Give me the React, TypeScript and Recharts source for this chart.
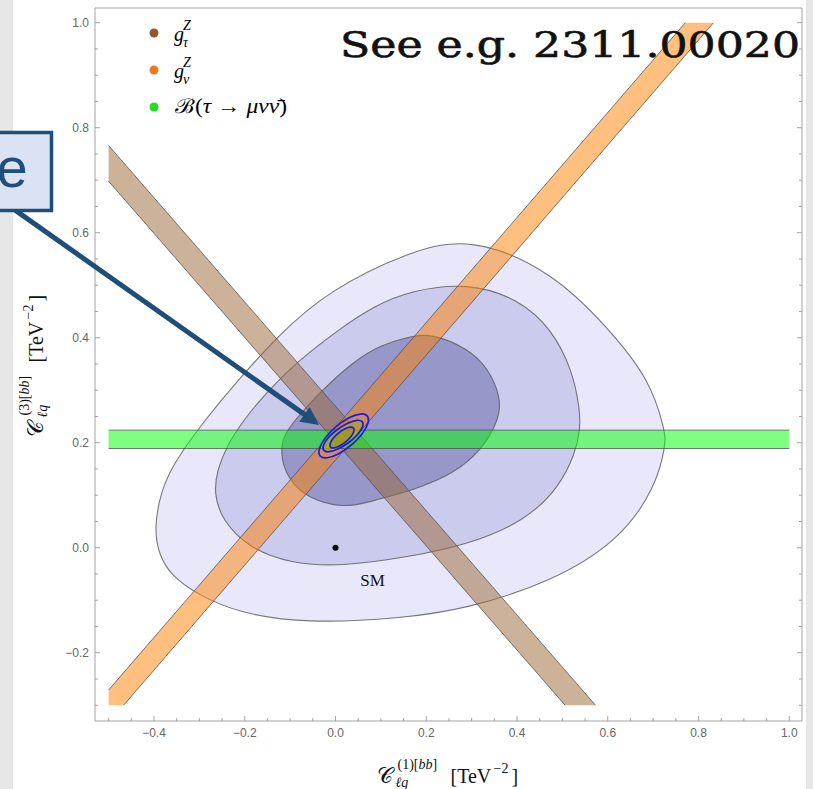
import React from 'react';
import { ComposedChart, XAxis, YAxis, Scatter, ReferenceLine, Legend } from 'recharts';

type Pt = [number, number];

const W = 813;
const H = 789;

const xDomain = [-0.53, 1.028];
const yDomain = [-0.33, 1.028];

const xTicks = [-0.5, -0.45, -0.4, -0.35, -0.3, -0.25, -0.2, -0.15, -0.1, -0.05, 0, 0.05, 0.1, 0.15, 0.2, 0.25, 0.3, 0.35, 0.4, 0.45, 0.5, 0.55, 0.6, 0.65, 0.7, 0.75, 0.8, 0.85, 0.9, 0.95, 1.0];
const yTicks = [-0.3, -0.25, -0.2, -0.15, -0.1, -0.05, 0, 0.05, 0.1, 0.15, 0.2, 0.25, 0.3, 0.35, 0.4, 0.45, 0.5, 0.55, 0.6, 0.65, 0.7, 0.75, 0.8, 0.85, 0.9, 0.95, 1.0];

// global fit contours, traced clockwise from the leftmost point
const outerContour: Pt[] = [
  [-0.399, 0.034], [-0.389, 0.092], [-0.366, 0.148], [-0.304, 0.226], [-0.218, 0.316], [-0.129, 0.402],
  [-0.018, 0.489], [0.166, 0.566], [0.298, 0.592], [0.477, 0.527], [0.603, 0.417], [0.692, 0.321],
  [0.726, 0.224], [0.728, 0.196], [0.705, 0.114], [0.625, 0.013], [0.476, -0.065], [0.291, -0.116],
  [0.143, -0.135], [-0.064, -0.144], [-0.212, -0.125], [-0.307, -0.088], [-0.362, -0.053], [-0.389, -0.014],
];
const middleContour: Pt[] = [
  [-0.268, 0.104], [-0.261, 0.148], [-0.238, 0.197], [-0.201, 0.245], [-0.151, 0.297], [-0.084, 0.355],
  [0.011, 0.418], [0.084, 0.460], [0.166, 0.490], [0.291, 0.505], [0.404, 0.474], [0.477, 0.416],
  [0.522, 0.338], [0.539, 0.262], [0.539, 0.224], [0.528, 0.179], [0.492, 0.114], [0.416, 0.050],
  [0.291, 0.006], [0.166, -0.017], [0.011, -0.036], [-0.099, -0.030], [-0.190, -0.001], [-0.250, 0.052],
];
const innerContour: Pt[] = [
  [-0.120, 0.167], [-0.118, 0.206], [-0.101, 0.232], [-0.034, 0.297], [0.040, 0.355], [0.099, 0.386],
  [0.166, 0.403], [0.210, 0.408], [0.292, 0.380], [0.338, 0.340], [0.363, 0.288], [0.363, 0.249],
  [0.322, 0.184], [0.255, 0.139], [0.188, 0.116], [0.143, 0.103], [0.077, 0.088], [0.018, 0.075],
  [-0.063, 0.095], [-0.101, 0.128],
];

// combined fit near the crossing of the three bands
const fitOuter: Pt[] = [
  [0.0721, 0.253], [0.074, 0.2386], [0.0608, 0.2175], [0.0361, 0.1951], [0.0066, 0.1775], [-0.0198, 0.1694],
  [-0.0361, 0.173], [-0.038, 0.1874], [-0.0248, 0.2085], [-0.0001, 0.2309], [0.0294, 0.2485], [0.0558, 0.2566],
];
const fitMiddle: Pt[] = [
  [0.0608, 0.2414], [0.0614, 0.2311], [0.05, 0.2158], [0.0296, 0.1998], [0.0058, 0.1872], [-0.0152, 0.1815],
  [-0.0276, 0.1842], [-0.0282, 0.1945], [-0.0168, 0.2098], [0.0036, 0.2258], [0.0274, 0.2384], [0.0484, 0.2441],
];
const fitInner: Pt[] = [
  [0.0408, 0.2289], [0.0415, 0.2221], [0.035, 0.212], [0.0229, 0.2013], [0.0084, 0.193], [-0.0043, 0.1891],
  [-0.0122, 0.1909], [-0.0129, 0.1977], [-0.0064, 0.2078], [0.0057, 0.2185], [0.0202, 0.2268], [0.0329, 0.2307],
];

// allowed bands from the individual observables, cut to the plot range
const gTauBand: Pt[] = [[-0.5, 0.698], [-0.5, 0.766], [0.573, -0.3], [0.506, -0.3]];
const gTauEdges: Pt[][] = [[[-0.5, 0.766], [0.573, -0.3]], [[-0.5, 0.698], [0.506, -0.3]]];
const gNuBand: Pt[] = [[-0.5, -0.3], [-0.5, -0.271], [0.771, 1.0], [0.833, 1.0], [-0.467, -0.3]];
const gNuEdges: Pt[][] = [[[-0.5, -0.271], [0.771, 1.0]], [[-0.467, -0.3], [0.833, 1.0]]];
const brBand: Pt[] = [[-0.5, 0.189], [-0.5, 0.224], [1.0, 0.224], [1.0, 0.189]];
const brEdges: Pt[][] = [[[-0.5, 0.224], [1.0, 0.224]], [[-0.5, 0.189], [1.0, 0.189]]];

const smPoint: Pt[] = [[0, 0]];
const arrowFrom = { x: -0.706, y: 0.643 };
const arrowTo = { x: -0.036, y: 0.234 };

const legendItems = [
  { color: '#8f5b2e', main: 'g', sup: 'Z', sub: 'τ' },
  { color: '#eb7a1c', main: 'g', sup: 'Z', sub: 'ν' },
  { color: '#1fe01f', main: 'B' },
];

const frame = '#a3a3a3';
const tickText = '#666';
const sans = "'Liberation Sans', Arial, sans-serif";
const serif = "'Liberation Serif', 'DejaVu Serif', serif";
const edgeStroke = '#4d4d4d';
const ringBlue = '#1b1be8';
const arrowBlue = '#1f4e79';

const toXY = (p: Pt[]) => p.map(([x, y]) => ({ x, y }));
const isMajor = (v: number) => Math.abs(v * 5 - Math.round(v * 5)) < 1e-6;
const fmt = (v: number) => (Math.abs(v) < 1e-9 ? '0.0' : v.toFixed(1).replace('-', '\u2212'));
const noMarker = () => <g />;

const LeftTick = ({ x, y, payload }: any) => {
  const major = isMajor(payload.value);
  return (
    <g>
      <line x1={x} y1={y} x2={x + (major ? 5 : 3)} y2={y} stroke={frame} />
      {major && (
        <text x={x - 6} y={y + 4} textAnchor="end" fontSize={12} fontFamily={sans} fill={tickText}>
          {fmt(payload.value)}
        </text>
      )}
    </g>
  );
};

const RightTick = ({ x, y, payload }: any) => (
  <line x1={x} y1={y} x2={x - (isMajor(payload.value) ? 5 : 3)} y2={y} stroke={frame} />
);

const BottomTick = ({ x, y, payload }: any) => {
  const major = isMajor(payload.value);
  return (
    <g>
      <line x1={x} y1={y} x2={x} y2={y - (major ? 5 : 3)} stroke={frame} />
      {major && (
        <text x={x} y={y + 16} textAnchor="middle" fontSize={12} fontFamily={sans} fill={tickText}>
          {fmt(payload.value)}
        </text>
      )}
    </g>
  );
};

const TopTick = ({ x, y, payload }: any) => (
  <line x1={x} y1={y} x2={x} y2={y + (isMajor(payload.value) ? 5 : 3)} stroke={frame} />
);

// C_{lq}^{(n)[bb]} [TeV^-2], horizontal under the x axis or rotated beside the y axis
const AxisTitle = ({ viewBox, axis, n }: any) => {
  const vb = viewBox || { x: 0, y: 0, width: 0, height: 0 };
  const transform =
    axis === 'x'
      ? `translate(${vb.x + vb.width / 2}, ${vb.y + 62})`
      : `translate(${vb.x + 43}, ${vb.y + vb.height / 2}) rotate(-90)`;
  return (
    <g transform={transform} fontFamily={serif} fill="#111">
      <text x={-72} y={0} fontSize={22}>𝒞</text>
      <text x={-51} y={-14} fontSize={14}>
        ({n})[<tspan fontStyle="italic">bb</tspan>]
      </text>
      <text x={-53} y={4} fontSize={14} fontStyle="italic">ℓq</text>
      <text x={2} y={0} fontSize={20}>[TeV</text>
      <text x={45} y={-10} fontSize={14}>−2</text>
      <text x={63} y={0} fontSize={20}>]</text>
    </g>
  );
};

const LegendBox = () => (
  <svg width={170} height={110} style={{ display: 'block', overflow: 'visible' }} fontFamily={serif}>
    {legendItems.map((it, i) => {
      const cy = 18 + i * 37;
      return (
        <g key={i}>
          <circle cx={14} cy={cy} r={4.5} fill={it.color} />
          {it.sup ? (
            <>
              <text x={34} y={cy + 8} fontSize={20} fontStyle="italic">{it.main}</text>
              <text x={43} y={cy - 3.5} fontSize={14} fontStyle="italic">{it.sup}</text>
              <text x={43} y={cy + 13.5} fontSize={14} fontStyle="italic">{it.sub}</text>
            </>
          ) : (
            <text x={35} y={cy + 6} fontSize={20} textLength={112} lengthAdjust="spacingAndGlyphs">
              ℬ(<tspan fontStyle="italic">τ</tspan> → <tspan fontStyle="italic">μνν̄</tspan>)
            </text>
          )}
        </g>
      );
    })}
  </svg>
);

const SmMarker = ({ cx, cy }: any) => (
  <g>
    <circle cx={cx} cy={cy} r={3} fill="#000" />
    <text x={cx + 37} y={cy + 38} textAnchor="middle" fontSize={17} fontFamily={serif} fill="#111">SM</text>
  </g>
);

const ArrowShape = ({ x1, y1, x2, y2 }: any) => {
  const len = Math.hypot(x2 - x1, y2 - y1);
  const ux = (x2 - x1) / len;
  const uy = (y2 - y1) / len;
  const bx = x2 - ux * 18;
  const by = y2 - uy * 18;
  const hw = 9;
  return (
    <g>
      <line x1={x1} y1={y1} x2={bx + ux * 2} y2={by + uy * 2} stroke={arrowBlue} strokeWidth={5} />
      <polygon points={`${x2},${y2} ${bx - uy * hw},${by + ux * hw} ${bx + uy * hw},${by - ux * hw}`} fill={arrowBlue} />
    </g>
  );
};

const region = (key: string, pts: Pt[], line: any, curve: any) => (
  <Scatter
    key={key}
    data={toXY(pts)}
    dataKey="y"
    shape={noMarker}
    line={line}
    lineJointType={curve}
    isAnimationActive={false}
  />
);

const contourLine = { stroke: '#5a5a5a', strokeOpacity: 0.8, strokeWidth: 1.1 };
const edgeLine = { fill: 'none', stroke: edgeStroke, strokeOpacity: 0.75, strokeWidth: 1 };

export default function App() {
  return (
    <div style={{ position: 'absolute', left: 0, top: 0, width: W, height: H, background: '#e6e6e6', overflow: 'hidden' }}>
      <div style={{ position: 'absolute', left: 13, top: 0, width: 793, height: H, background: '#fff' }} />
      <div style={{ position: 'absolute', left: 0, top: 0 }}>
        <ComposedChart width={W} height={H} margin={{ top: 0, right: 0, bottom: 0, left: 0 }}>
          <XAxis
            xAxisId={0}
            dataKey="x"
            type="number"
            domain={xDomain}
            ticks={xTicks}
            interval={0}
            allowDataOverflow
            height={68}
            tickSize={0}
            tickMargin={0}
            tickLine={false}
            axisLine={{ stroke: frame }}
            tick={BottomTick}
            label={<AxisTitle axis="x" n="1" />}
          />
          <XAxis
            xAxisId="t"
            orientation="top"
            type="number"
            domain={xDomain}
            ticks={xTicks}
            interval={0}
            allowDataOverflow
            height={8}
            tickSize={0}
            tickMargin={0}
            tickLine={false}
            axisLine={{ stroke: frame }}
            tick={TopTick}
          />
          <YAxis
            yAxisId={0}
            dataKey="y"
            type="number"
            domain={yDomain}
            ticks={yTicks}
            interval={0}
            allowDataOverflow
            width={95}
            tickSize={0}
            tickMargin={0}
            tickLine={false}
            axisLine={{ stroke: frame }}
            tick={LeftTick}
            label={<AxisTitle axis="y" n="3" />}
          />
          <YAxis
            yAxisId="r"
            orientation="right"
            type="number"
            domain={yDomain}
            ticks={yTicks}
            interval={0}
            allowDataOverflow
            width={11}
            tickSize={0}
            tickMargin={0}
            tickLine={false}
            axisLine={{ stroke: frame }}
            tick={RightTick}
          />

          {region('outer', outerContour, { fill: '#e8e8fa', ...contourLine }, 'basisClosed')}
          {region('middle', middleContour, { fill: '#cbcbee', ...contourLine }, 'basisClosed')}
          {region('inner', innerContour, { fill: '#9797ca', ...contourLine }, 'basisClosed')}

          {region('gtau', gTauBand, { fill: '#996633', fillOpacity: 0.5, stroke: 'none' }, 'linearClosed')}
          {gTauEdges.map((e, i) => region(`gtau-e${i}`, e, edgeLine, 'linear'))}
          {region('gnu', gNuBand, { fill: '#ff8000', fillOpacity: 0.5, stroke: 'none' }, 'linearClosed')}
          {gNuEdges.map((e, i) => region(`gnu-e${i}`, e, edgeLine, 'linear'))}
          {region('br', brBand, { fill: '#00ff00', fillOpacity: 0.5, stroke: 'none' }, 'linearClosed')}
          {brEdges.map((e, i) => region(`br-e${i}`, e, edgeLine, 'linear'))}

          {region('fit-fill', fitMiddle, { fill: '#b5a02a', fillOpacity: 0.75, stroke: 'none' }, 'basisClosed')}
          {region('fit-core', fitInner, { fill: '#a08a20', fillOpacity: 0.45, stroke: 'none' }, 'basisClosed')}
          {region('fit-3', fitOuter, { fill: 'none', stroke: ringBlue, strokeWidth: 1.7 }, 'basisClosed')}
          {region('fit-2', fitMiddle, { fill: 'none', stroke: ringBlue, strokeWidth: 1.7 }, 'basisClosed')}
          {region('fit-1', fitInner, { fill: 'none', stroke: ringBlue, strokeWidth: 1.7 }, 'basisClosed')}

          <Scatter data={toXY(smPoint)} dataKey="y" shape={SmMarker} isAnimationActive={false} />

          <ReferenceLine segment={[arrowFrom, arrowTo]} ifOverflow="visible" shape={ArrowShape} zIndex={2000} />

          <Legend
            layout="vertical"
            align="center"
            verticalAlign="middle"
            content={LegendBox}
            wrapperStyle={{ left: 140, top: 15, width: 170, height: 110 }}
          />
        </ComposedChart>
      </div>
      <svg width={W} height={H} style={{ position: 'absolute', left: 0, top: 0, pointerEvents: 'none' }}>
        <text
          x={340}
          y={57}
          fontSize={35}
          fontFamily="'DejaVu Serif', serif"
          fill="#111"
          stroke="#111"
          strokeWidth={0.6}
          textLength={460}
          lengthAdjust="spacingAndGlyphs"
        >
          See e.g. 2311.00020
        </text>
        <rect x={-10} y={132.5} width={61.5} height={78} fill="#dae3f3" stroke={arrowBlue} strokeWidth={3.5} />
        <text x={-16} y={187} fontSize={56} fontFamily={sans} fill={arrowBlue}>le</text>
      </svg>
    </div>
  );
}
